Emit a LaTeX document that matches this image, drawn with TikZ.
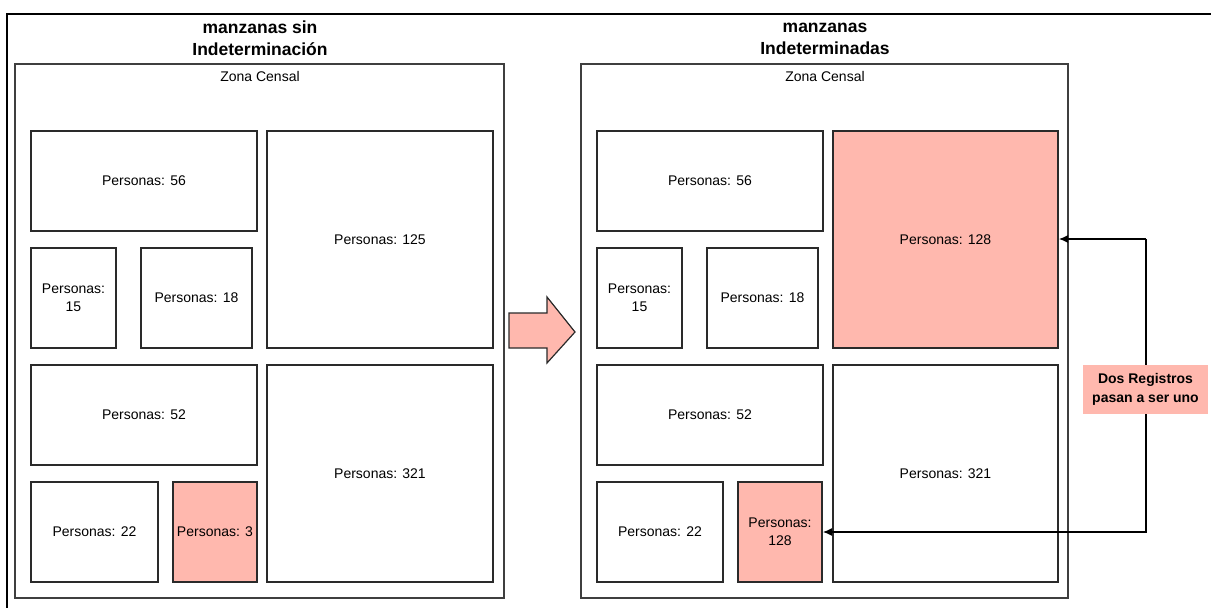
\documentclass[tikz,border=0pt]{standalone}
\usepackage{fontspec}
\setmainfont{Liberation Sans}
\usetikzlibrary{arrows.meta}
\definecolor{pinkfill}{HTML}{FFB8AE}
\definecolor{edge}{HTML}{2A2A2A}
\begin{document}
\begin{tikzpicture}[x=1pt,y=-1pt,
  blk/.style={draw=edge,line width=1.5pt,fill=white},
  hot/.style={draw=edge,line width=1.5pt,fill=pinkfill},
  lbl/.style={font=\fontsize{14}{18}\selectfont,align=center,text=black},
  ttl/.style={font=\fontsize{17.5}{22}\selectfont\bfseries,align=center},
  conn/.style={draw=black,line width=1.2pt,-{Latex[length=9pt,width=8pt]}}]
\useasboundingbox (0,0) rectangle (1211,608);
% outer frame
\draw[line width=2.5pt] (7,608) -- (7,14) -- (1211,14);
% titles
\node[ttl] (t1) at (260,38.5) {manzanas sin\\Indeterminación};
\node[ttl] (t2) at (825,38.5) {manzanas\\Indeterminadas};
% zones
\draw[blk,draw=edge!90] (15,64) rectangle (504,598);
\node[lbl] (z1) at (260,76) {Zona Censal};
\draw[blk,draw=edge!90] (581,64) rectangle (1068,598);
\node[lbl] (z2) at (825,76) {Zona Censal};
% left blocks
\draw[blk] (31,131) rectangle (257,231) node[lbl,midway] (a56) {Personas: 56};
\draw[blk] (31,248) rectangle (116,348) node[lbl,midway] (a15) {Personas:\\15};
\draw[blk] (141,248) rectangle (252,348) node[lbl,midway] (a18) {Personas: 18};
\draw[blk] (267,131) rectangle (493,348) node[lbl,midway] (a125) {Personas: 125};
\draw[blk] (31,365) rectangle (257,465) node[lbl,midway] (a52) {Personas: 52};
\draw[blk] (31,482) rectangle (158,582) node[lbl,midway] (a22) {Personas: 22};
\draw[hot] (173,482) rectangle (257,582) node[lbl,midway] (a3) {Personas: 3};
\draw[blk] (267,365) rectangle (493,582) node[lbl,midway] (a321) {Personas: 321};
% right blocks
\draw[blk] (597,131) rectangle (823,231) node[lbl,midway] (b56) {Personas: 56};
\draw[blk] (597,248) rectangle (682,348) node[lbl,midway] (b15) {Personas:\\15};
\draw[blk] (707,248) rectangle (818,348) node[lbl,midway] (b18) {Personas: 18};
\draw[hot] (833,131) rectangle (1058,348) node[lbl,midway] (b128) {Personas: 128};
\draw[blk] (597,365) rectangle (823,465) node[lbl,midway] (b52) {Personas: 52};
\draw[blk] (597,482) rectangle (723,582) node[lbl,midway] (b22) {Personas: 22};
\draw[hot] (738,482) rectangle (822,582) node[lbl,midway] (b128s) {Personas:\\128};
\draw[blk] (833,365) rectangle (1058,582) node[lbl,midway] (b321) {Personas: 321};
% big arrow
\draw[hot,line width=1.2pt] (509,313) -- (547,313) -- (547,297) -- (575,332) -- (547,363) -- (547,348) -- (509,348) -- cycle;
% connectors
\coordinate (c1) at (1146,239);
\coordinate (c2) at (1146,532);
\draw[conn] (c1) -- (1059,239);
\draw[conn] (c1) -- (c2) -- (823,532);
% label
\node[fill=pinkfill,minimum width=125pt,minimum height=49pt,inner sep=0pt,
  font=\fontsize{14}{19}\selectfont\bfseries,align=center] (note) at (1145.5,389.5) {Dos Registros\\pasan a ser uno};
\end{tikzpicture}
\end{document}
